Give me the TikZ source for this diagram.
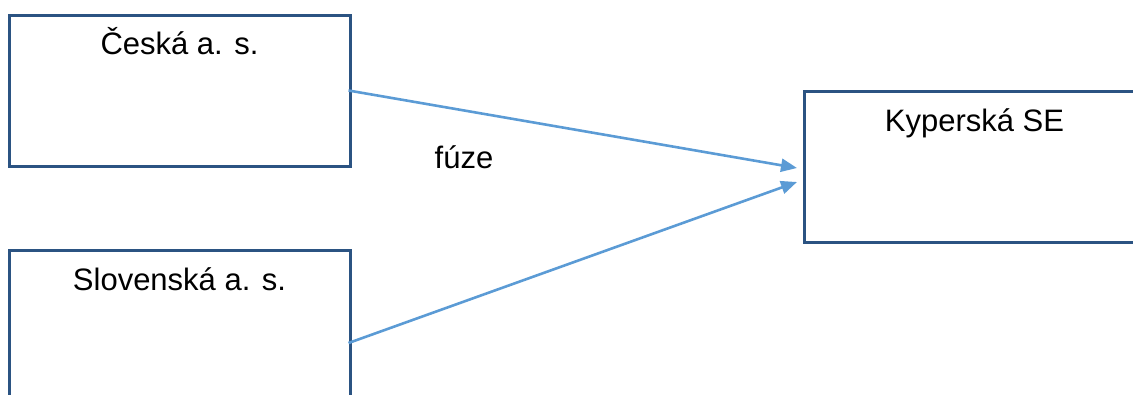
\documentclass[tikz,border=0pt]{standalone}
\usepackage{fontspec}
\setmainfont{Liberation Sans}
\usetikzlibrary{arrows.meta}
\definecolor{boxline}{HTML}{2B5382}
\definecolor{arrowblue}{HTML}{5B9BD5}
\begin{document}
\begin{tikzpicture}[x=1pt,y=1pt,
  firm/.style={draw=boxline, line width=3pt, fill=white, rectangle, minimum width=341pt, inner sep=0pt},
  lbl/.style={anchor=base, inner sep=0pt, font=\fontsize{31}{36}\selectfont},
  flow/.style={draw=arrowblue, line width=2.6pt, -{Triangle[length=16pt,width=13pt]}}]
\useasboundingbox (0,0) rectangle (1133,-394);
\clip (0,0) rectangle (1133,-394);
\node[firm, minimum height=151pt] (cz) at (179.5,-90.5) {};
\node[firm, minimum height=186pt] (sk) at (179.5,-343) {};
\node[firm, minimum height=151pt] (cy) at (974.5,-166.5) {};
\node[lbl] (czt) at (179.5,-54) {Česká a. s.};
\node[lbl] (skt) at (179.5,-290) {Slovenská a. s.};
\node[lbl] (cyt) at (974.5,-131) {Kyperská SE};
\node[lbl] (fu) at (464,-168) {fúze};
\coordinate (t1) at (797,-168);
\coordinate (t2) at (797,-182);
\coordinate (s1) at ([xshift=-3pt]cz.east);
\coordinate (s2) at ([xshift=-3pt]sk.east);
\draw[flow] (s1) -- (t1);
\draw[flow] (s2) -- (t2);
\end{tikzpicture}
\end{document}
